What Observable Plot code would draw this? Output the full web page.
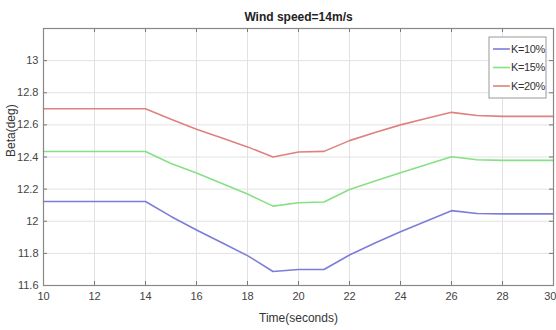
<!DOCTYPE html>
<html>
<head>
<meta charset="utf-8">
<script src="https://cdn.jsdelivr.net/npm/d3@7"></script>
<script src="https://cdn.jsdelivr.net/npm/@observablehq/plot@0.6"></script>
<style>
  html, body { margin: 0; padding: 0; background: #fff; }
  #chart svg { display: block; }
</style>
</head>
<body>
<div id="chart"></div>
<script>
const time = [10, 14, 15, 16, 17, 18, 19, 20, 21, 22, 23, 24, 25, 26, 27, 28, 30];
const k10 = [12.123, 12.123, 12.03, 11.946, 11.866, 11.786, 11.687, 11.70, 11.70, 11.79, 11.865, 11.935, 12.0, 12.066, 12.048, 12.046, 12.046];
const k15 = [12.434, 12.434, 12.36, 12.30, 12.235, 12.17, 12.094, 12.115, 12.12, 12.198, 12.25, 12.302, 12.352, 12.402, 12.383, 12.379, 12.379];
const k20 = [12.70, 12.70, 12.635, 12.573, 12.518, 12.463, 12.40, 12.431, 12.435, 12.502, 12.552, 12.60, 12.64, 12.678, 12.658, 12.653, 12.653];
const seriesNames = ["K=10%", "K=15%", "K=20%"];
const seriesColors = ["#7d7dd8", "#86e086", "#e08080"];
const xTicks = [10, 12, 14, 16, 18, 20, 22, 24, 26, 28, 30];
const yTicks = [11.6, 11.8, 12, 12.2, 12.4, 12.6, 12.8, 13];
const title = "Wind speed=14m/s";
const xLabel = "Time(seconds)";
const yLabel = "Beta(deg)";

const allSeries = [k10, k15, k20];
const rows = [];
allSeries.forEach((vals, si) => {
  vals.forEach((v, i) => rows.push({t: time[i], v, k: seriesNames[si]}));
});

const W = 556, H = 330;
const mL = 43, mR = 3, mT = 28, mB = 45;
const ph = H - mT - mB, pw = W - mL - mR;
const font = "'Liberation Sans', Arial, sans-serif";
const fmt = d => `${d}`;
const xInner = xTicks.slice(0, -1);
const xLast = xTicks.slice(-1);

const plot = Plot.plot({
  width: W, height: H,
  marginLeft: mL, marginRight: mR, marginTop: mT, marginBottom: mB,
  style: {fontFamily: font, fontSize: "11px", color: "#444", background: "#fff"},
  x: {domain: [10, 30], ticks: xTicks, label: null},
  y: {domain: [11.6, 13.2], ticks: yTicks, label: null},
  color: {domain: seriesNames, range: seriesColors},
  marks: [
    Plot.gridX(xTicks, {stroke: "#e2e2e2", strokeOpacity: 1}),
    Plot.gridY(yTicks, {stroke: "#e2e2e2", strokeOpacity: 1}),
    Plot.axisX(xInner, {tickSize: 0, tickPadding: 7, fontSize: 11, fill: "#444", tickFormat: fmt}),
    Plot.axisX(xLast, {tickSize: 0, tickPadding: 7, fontSize: 11, fill: "#444", tickFormat: fmt, textAnchor: "end", dx: 3}),
    Plot.axisY(yTicks, {tickSize: 0, tickPadding: 5, fontSize: 11, fill: "#444", tickFormat: fmt}),
    Plot.ruleX(xTicks, {stroke: "#777", insetTop: ph - 4}),
    Plot.ruleX(xTicks, {stroke: "#777", insetBottom: ph - 4}),
    Plot.ruleY(yTicks, {stroke: "#777", insetRight: pw - 4}),
    Plot.ruleY(yTicks, {stroke: "#777", insetLeft: pw - 4}),
    Plot.line(rows, {x: "t", y: "v", z: "k", stroke: "k", strokeWidth: 1.6}),
    Plot.frame({stroke: "#888", strokeWidth: 1.2}),
    Plot.text([title], {frameAnchor: "top", dy: -16, fontWeight: "bold", fontSize: 12, fill: "#222"}),
    Plot.text([xLabel], {frameAnchor: "bottom", dy: 36, fontSize: 12, fill: "#333"}),
    Plot.text([yLabel], {frameAnchor: "left", dx: -32, rotate: -90, fontSize: 12, fill: "#333"})
  ]
});

// legend inside the plot (top-right), MATLAB style
const svg = d3.select(plot);
const lx = 489, ly = 37, lw = 57, lh = 61;
const lg = svg.append("g").attr("font-family", font).attr("font-size", 11).attr("text-anchor", "start");
lg.append("rect").attr("x", lx).attr("y", ly).attr("width", lw).attr("height", lh)
  .attr("fill", "#fff").attr("stroke", "#999");
seriesNames.forEach((name, i) => {
  const yy = ly + 12 + i * 18.5;
  lg.append("line").attr("x1", lx + 4).attr("x2", lx + 21).attr("y1", yy).attr("y2", yy)
    .attr("stroke", seriesColors[i]).attr("stroke-width", 1.6);
  lg.append("text").attr("x", lx + 22).attr("y", yy).attr("dy", "0.35em")
    .attr("text-anchor", "start").attr("letter-spacing", "-0.4").attr("fill", "#333").text(name);
});

document.getElementById("chart").appendChild(plot);
</script>
</body>
</html>
